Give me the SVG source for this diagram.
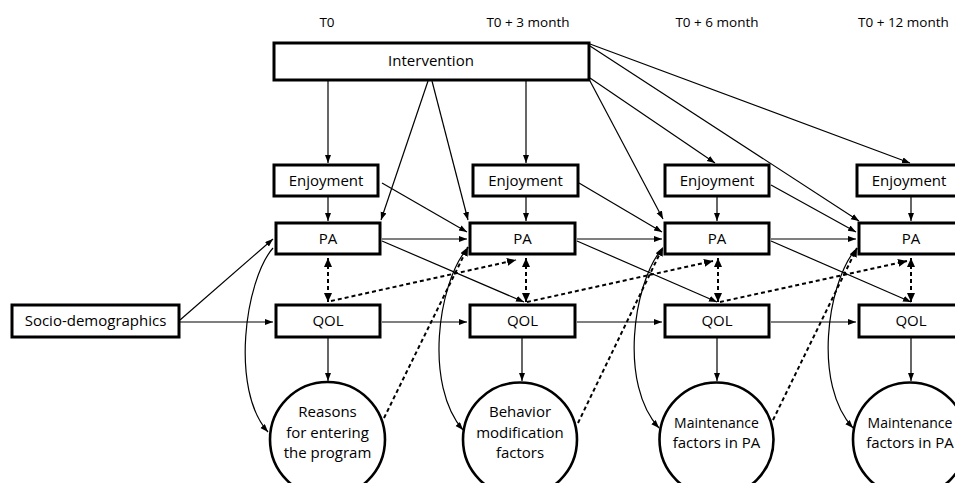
<svg xmlns="http://www.w3.org/2000/svg" width="955" height="483" viewBox="0 0 955 483">
<defs>
<style>
.box{fill:#fff;stroke:#000;stroke-width:3}
.circ{fill:#fff;stroke:#000;stroke-width:2.6}
.t{font-family:"Open Sans","Liberation Sans",sans-serif;font-size:15px;fill:#000;text-anchor:middle}
.m{font-size:14px}
.h{font-family:"Open Sans","Liberation Sans",sans-serif;font-size:13.5px;fill:#000;text-anchor:middle}
.c{fill:none;stroke:#000;stroke-width:1.2}
.a{marker-end:url(#ah)}
.d{fill:none;stroke:#000;stroke-width:2;stroke-dasharray:4 3;marker-end:url(#dh)}
.dd{marker-start:url(#dh)}
</style>
<marker id="ah" markerUnits="userSpaceOnUse" markerWidth="9" markerHeight="7" refX="8" refY="3" orient="auto">
<path d="M0,0 L8,3 L0,6 z" fill="#000"/>
</marker>
<marker id="dh" markerUnits="userSpaceOnUse" markerWidth="10" markerHeight="8" refX="9" refY="4" orient="auto-start-reverse">
<path d="M0,0 L9,4 L0,8 z" fill="#000"/>
</marker>
</defs>
<rect width="955" height="483" fill="#fff"/>

<g id="headers">
<text class="h" x="327" y="27">T0</text>
<text class="h" x="528" y="27">T0 + 3 month</text>
<text class="h" x="717" y="27">T0 + 6 month</text>
<text class="h" x="858" y="27" style="text-anchor:start">T0 + 12 month</text>
</g>

<g id="connectors">
<path class="c a" d="M328 81 V163"/>
<path class="c a" d="M526 81 V163"/>
<path class="c a" d="M428 81 L381 220"/>
<path class="c a" d="M432 81 L468 220"/>
<path class="c a" d="M590 78 L715 163"/>
<path class="c a" d="M590 81 L663 219"/>
<path class="c a" d="M590 46 L859 221"/>
<path class="c a" d="M590 44 L910 163"/>
<path class="c a" d="M328 197 V221"/>
<path class="c a" d="M526 197 V221"/>
<path class="c a" d="M717 197 V221"/>
<path class="c a" d="M911 197 V221"/>
<path class="c a" d="M382 183 L467 232"/>
<path class="c a" d="M579 183 L662 232"/>
<path class="c a" d="M771 185 L856 232"/>
<path class="c a" d="M382 239 H467"/>
<path class="c a" d="M577 239 H662"/>
<path class="c a" d="M771 239 H856"/>
<path class="c a" d="M382 241 L524 302"/>
<path class="c a" d="M577 241 L717 302"/>
<path class="c a" d="M771 241 L911 302"/>
<path class="d dd" d="M328 258 V302"/>
<path class="d dd" d="M526 258 V302"/>
<path class="d dd" d="M718 258 V302"/>
<path class="d dd" d="M911 258 V302"/>
<path class="d" d="M331 301 L516 260"/>
<path class="d" d="M527 302 L713 261"/>
<path class="d" d="M720 302 L907 261"/>
<path class="c a" d="M382 322 H467"/>
<path class="c a" d="M577 322 H662"/>
<path class="c a" d="M771 322 H856"/>
<path class="c a" d="M180 320 L273 239"/>
<path class="c a" d="M180 322 H273"/>
<path class="c a" d="M328 338 V381"/>
<path class="c a" d="M522 338 V381"/>
<path class="c a" d="M717 338 V381"/>
<path class="c a" d="M911 338 V381"/>
<path class="c a" d="M273 248 C245 280 230 390 268 432"/>
<path class="c a" d="M466 250 C438 285 424 385 463 430"/>
<path class="c a" d="M661 250 C633 285 619 385 659 428"/>
<path class="c a" d="M855 250 C827 285 813 385 853 428"/>
<path class="d" d="M384 418 L468 247"/>
<path class="d" d="M578 423 L663 247"/>
<path class="d" d="M773 420 L857 248"/>
</g>

<g id="intervention">
<rect class="box" x="274" y="43" width="315" height="37"/>
<text class="t" x="431" y="66">Intervention</text>
</g>

<g id="socio">
<rect class="box" x="12" y="305" width="167" height="32"/>
<text class="t" x="95.5" y="326">Socio-demographics</text>
</g>

<g id="enjoyment1"><rect class="box" x="274" y="165" width="104" height="31"/><text class="t" x="326" y="186">Enjoyment</text></g>
<g id="enjoyment2"><rect class="box" x="473" y="165" width="105" height="31"/><text class="t" x="525.5" y="186">Enjoyment</text></g>
<g id="enjoyment3"><rect class="box" x="665" y="165" width="104" height="31"/><text class="t" x="717" y="186">Enjoyment</text></g>
<g id="enjoyment4"><rect class="box" x="857" y="165" width="104" height="31"/><text class="t" x="909" y="186">Enjoyment</text></g>

<g id="pa1"><rect class="box" x="276" y="223" width="104" height="31"/><text class="t" x="328" y="244">PA</text></g>
<g id="pa2"><rect class="box" x="470" y="223" width="105" height="31"/><text class="t" x="522.5" y="244">PA</text></g>
<g id="pa3"><rect class="box" x="665" y="223" width="104" height="31"/><text class="t" x="717" y="244">PA</text></g>
<g id="pa4"><rect class="box" x="859" y="223" width="104" height="31"/><text class="t" x="911" y="244">PA</text></g>

<g id="qol1"><rect class="box" x="276" y="305" width="104" height="32"/><text class="t" x="328" y="326">QOL</text></g>
<g id="qol2"><rect class="box" x="470" y="305" width="105" height="32"/><text class="t" x="522.5" y="326">QOL</text></g>
<g id="qol3"><rect class="box" x="665" y="305" width="104" height="32"/><text class="t" x="717" y="326">QOL</text></g>
<g id="qol4"><rect class="box" x="859" y="305" width="104" height="32"/><text class="t" x="911" y="326">QOL</text></g>

<g id="reasons">
<circle class="circ" cx="327.5" cy="439.5" r="57.5"/>
<text class="t" x="327.5" y="417">Reasons</text>
<text class="t" x="327.5" y="438">for entering</text>
<text class="t" x="327.5" y="458">the program</text>
</g>
<g id="behavior">
<circle class="circ" cx="520" cy="439.5" r="57"/>
<text class="t" x="520" y="417">Behavior</text>
<text class="t" x="520" y="438">modification</text>
<text class="t" x="520" y="458">factors</text>
</g>
<g id="maintenance1">
<circle class="circ" cx="716.5" cy="439.5" r="57"/>
<text class="t m" x="716.5" y="428">Maintenance</text>
<text class="t" x="716.5" y="448">factors in PA</text>
</g>
<g id="maintenance2">
<circle class="circ" cx="910" cy="439.5" r="57"/>
<text class="t m" x="910" y="428">Maintenance</text>
<text class="t" x="910" y="448">factors in PA</text>
</g>
</svg>
